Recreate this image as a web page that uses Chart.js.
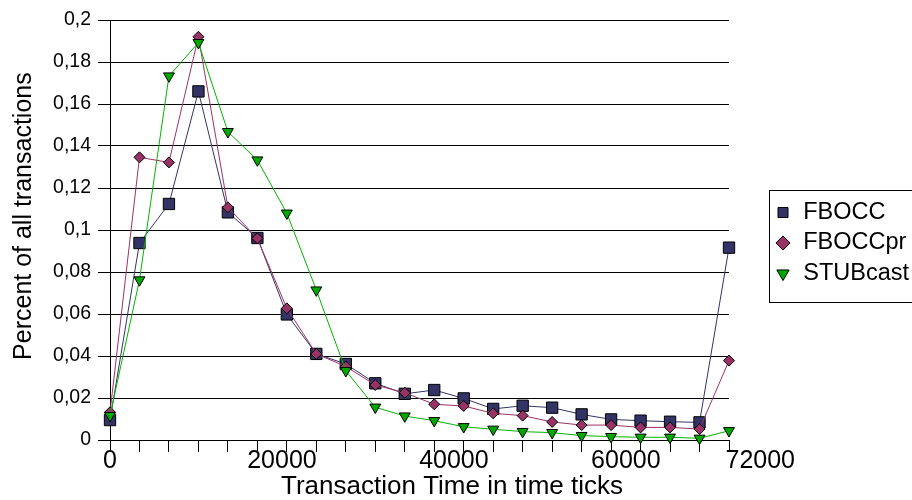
<!DOCTYPE html>
<html lang="en">
<head>
<meta charset="UTF-8">
<title>Transaction time distribution</title>
<script src="https://cdn.jsdelivr.net/npm/chart.js"></script>
<style>
    body { margin: 0; background: #fff; overflow: hidden; }
    #wrap { width: 912px; height: 500px; }
</style>
</head>
<body>
<div id="wrap"><canvas id="timeChart" width="912" height="500"></canvas></div>
<script>
// x: transaction time buckets (time ticks), 22 buckets up to 72000
const timeTicks = [0, 3429, 6857, 10286, 13714, 17143, 20571, 24000, 27429, 30857, 34286,
    37714, 41143, 44571, 48000, 51429, 54857, 58286, 61714, 65143, 68571, 72000];
const xTickLabels = [0, 20000, 40000, 60000, 72000];
const yMax = 0.2;
const yStep = 0.02;

// share of all transactions per bucket
const fbocc = [0.0095, 0.0938, 0.1124, 0.166, 0.1084, 0.0962, 0.0598, 0.041, 0.0362, 0.027, 0.022,
    0.0238, 0.0198, 0.0148, 0.0163, 0.0154, 0.0122, 0.0098, 0.0092, 0.0087, 0.0084, 0.0916];
const fboccPr = [0.0132, 0.1346, 0.1322, 0.192, 0.1108, 0.096, 0.0627, 0.041, 0.035, 0.0262, 0.0225,
    0.017, 0.0162, 0.0127, 0.0116, 0.0086, 0.0071, 0.0071, 0.006, 0.006, 0.0052, 0.0378];
const stubcast = [0.0116, 0.0762, 0.1733, 0.1892, 0.1468, 0.1333, 0.108, 0.0714, 0.033, 0.0156, 0.0114,
    0.0092, 0.0063, 0.0051, 0.004, 0.0035, 0.0021, 0.0016, 0.0013, 0.0013, 0.0008, 0.0044];

const FONT = 'Arial, "Liberation Sans", sans-serif';

function points(values) {
    return timeTicks.map((t, i) => ({ x: t, y: values[i] }));
}

// legend sits a bit away from the plot, with a frame that runs off the right edge
const legendFrame = {
    id: 'legendFrame',
    afterLayout(chart) {
        const lg = chart.legend;
        lg.left += 38.5;
        lg.right = lg.left + 400;   // legend clips to its box, let the text run off the canvas
        lg.top -= 17; lg.bottom -= 17;
    },
    afterDraw(chart) {
        const lg = chart.legend;
        const ctx = chart.ctx;
        const mid = (lg.top + lg.bottom) / 2;
        ctx.save();
        ctx.strokeStyle = '#000';
        ctx.lineWidth = 1;
        ctx.strokeRect(Math.round(lg.left) + 1.5, Math.round(mid - 53) + 0.5, 300, 112);
        ctx.restore();
    }
};

new Chart(document.getElementById('timeChart'), {
    type: 'line',
    data: {
        datasets: [
            {
                label: 'FBOCC', data: points(fbocc), order: 3,
                borderColor: '#333366', borderWidth: 1, tension: 0, clip: false,
                pointStyle: 'rect', pointRadius: 8, pointBackgroundColor: '#333366',
                pointBorderColor: '#000', pointBorderWidth: 1
            },
            {
                label: 'FBOCCpr', data: points(fboccPr), order: 2,
                borderColor: '#993366', borderWidth: 1, tension: 0, clip: false,
                pointStyle: 'rectRot', pointRadius: 5.5, pointBackgroundColor: '#993366',
                pointBorderColor: '#000', pointBorderWidth: 1
            },
            {
                label: 'STUBcast', data: points(stubcast), order: 1,
                borderColor: '#00b400', borderWidth: 1, tension: 0, clip: false,
                pointStyle: 'triangle', pointRotation: 180, pointRadius: 6.3,
                pointBackgroundColor: '#00a800', pointBorderColor: '#000', pointBorderWidth: 1
            }
        ]
    },
    options: {
        responsive: false,
        animation: false,
        layout: { padding: { top: 20, right: 83, bottom: 0, left: 0 } },
        plugins: {
            tooltip: { enabled: false },
            legend: {
                position: 'right',
                maxWidth: 100,
                labels: {
                    usePointStyle: true, boxWidth: 17, boxHeight: 10, padding: 7,
                    color: '#000', font: { family: FONT, size: 23.5 },
                    sort: (a, b) => a.datasetIndex - b.datasetIndex
                }
            }
        },
        scales: {
            x: {
                type: 'linear', min: 0, max: 72000,
                afterBuildTicks: s => {
                    s.ticks = [...new Set([...timeTicks, ...xTickLabels])]
                        .sort((a, b) => a - b).map(v => ({ value: v }));
                },
                afterFit: s => { s.height = 60; },
                grid: {
                    drawOnChartArea: false, tickLength: 12,
                    tickColor: c => (c.tick && timeTicks.includes(c.tick.value)) ? '#000' : 'rgba(0,0,0,0)'
                },
                border: { color: '#000', width: 1 },
                ticks: {
                    autoSkip: false, maxRotation: 0, minRotation: 0, padding: -3, color: '#000',
                    font: { family: FONT, size: 25, lineHeight: 1 },
                    callback: v => {
                        if (!xTickLabels.includes(v)) return '';
                        return v === 72000 ? ' '.repeat(9) + v : String(v);
                    }
                },
                title: {
                    display: true, text: ' '.repeat(9) + 'Transaction Time in time ticks', color: '#000',
                    font: { family: FONT, size: 26, lineHeight: 1 }, padding: { top: 0, bottom: 0 }
                }
            },
            y: {
                min: 0, max: yMax,
                afterFit: s => { s.width = 110; },
                grid: { color: '#000', tickColor: '#000', tickLength: 12 },
                border: { color: '#000', width: 1 },
                ticks: {
                    stepSize: yStep, padding: 7, color: '#000',
                    font: { family: FONT, size: 19.5 },
                    callback: v => String(+v.toFixed(2)).replace('.', ',')
                },
                title: {
                    display: true, text: '    Percent of all transactions', color: '#000',
                    font: { family: FONT, size: 25, lineHeight: 1 }, padding: { top: 12, bottom: 0 }
                }
            }
        }
    },
    plugins: [legendFrame]
});
</script>
</body>
</html>
